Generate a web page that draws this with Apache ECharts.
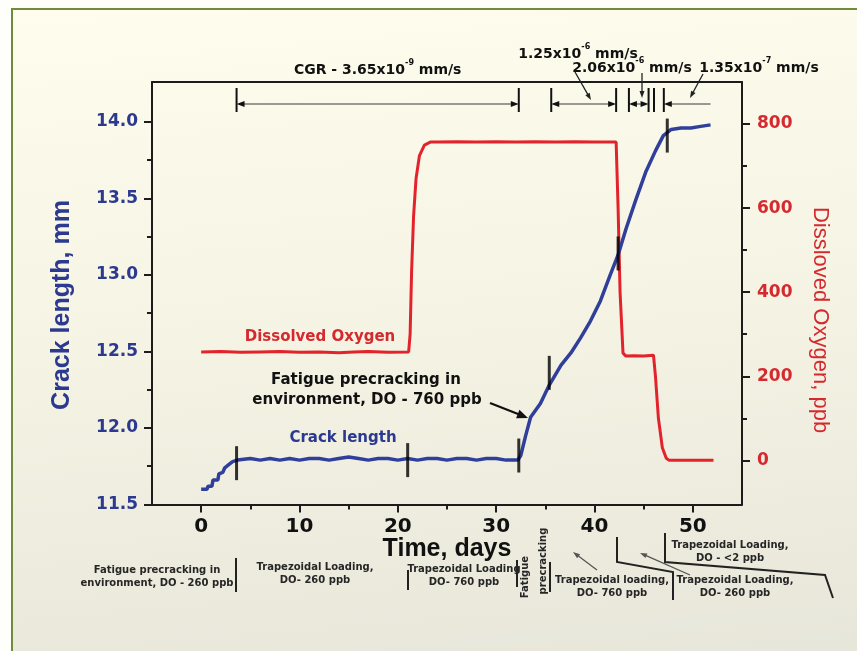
<!DOCTYPE html>
<html><head><meta charset="utf-8">
<script src="https://cdn.jsdelivr.net/npm/echarts@6/dist/echarts.min.js"></script>
<style>
html,body{margin:0;padding:0;background:#fefefa;}
#bg{position:absolute;left:11px;top:8px;width:846px;height:643px;box-sizing:border-box;border-left:2.5px solid #6e8c3c;border-top:2.5px solid #6e8c3c;background:linear-gradient(175deg,#fefdee 0%,#f6f4e4 45%,#e7e6da 100%);}
#c{position:absolute;left:0;top:0;width:857px;height:651px;}
</style>
</head><body><div id="bg"></div><div id="c"></div>
<script>
// ---- data ----
const crackDays = [0,0.6,0.7,1.1,1.2,1.7,1.8,2.2,2.4,2.8,3.2,3.7,5,6,7,8,9,10,11,12,13,14,15,16,17,18,19,20,21,22,23,24,25,26,27,28,29,30,31,32.2,32.5,33,33.5,34.5,35.4,36.6,37.6,38.6,39.6,40.6,41.6,42.4,43.2,44.2,45.2,46.2,47.0,47.8,48.8,49.8,50.8,51.8];
const crackMM   = [11.60,11.60,11.62,11.62,11.66,11.66,11.70,11.71,11.74,11.76,11.78,11.79,11.80,11.79,11.80,11.79,11.80,11.79,11.80,11.80,11.79,11.80,11.81,11.80,11.79,11.80,11.80,11.79,11.80,11.79,11.80,11.80,11.79,11.80,11.80,11.79,11.80,11.80,11.79,11.79,11.82,11.95,12.07,12.16,12.28,12.41,12.49,12.59,12.70,12.83,13.00,13.13,13.30,13.49,13.67,13.81,13.91,13.95,13.96,13.96,13.97,13.98];
const doDays = [0,2,4,6,8,10,12,14,15.5,17,19,21.1,21.25,21.4,21.6,21.85,22.2,22.7,23.3,24,26,28,30,32,34,36,38,40,42.2,42.4,42.6,42.9,43.2,44,45,46.0,46.2,46.5,46.9,47.3,47.6,49,51,52.1];
const doPpb  = [258,259,257,258,259,257,258,256,258,259,257,258,300,450,580,670,725,750,757,757,758,757,758,757,758,757,758,757,757,600,400,255,248,249,248,250,200,100,30,5,0,0,0,0];
const markerDays = [3.6,21.0,32.3,35.4,42.4,47.4];
const markerMM   = [11.77,11.79,11.82,12.36,13.14,13.91];
const xMajor = [0,10,20,30,40,50];
const xMinor = [5,15,25,35,45];
const leftMajor = [11.5,12.0,12.5,13.0,13.5,14.0];
const leftMinor = [11.75,12.25,12.75,13.25,13.75];
const rightMajor = [0,200,400,600,800];
const rightMinor = [100,300,500,700];
const cgrSpans = [[3.6,32.3],[35.6,42.2],[43.5,45.5]];
const cgrLastSpan = [47.05,51.8];

const FONT = 'DejaVu Sans';
const AX = '#1c1c1c';
const NAVY = '#2b3990';
const RED = '#d42a2f';

const chart = echarts.init(document.getElementById('c'), null, {renderer:'canvas'});
const xBase = {type:'value', min:-5, max:55, splitLine:{show:false}};
const option = {
  animation:false,
  backgroundColor:'transparent',
  grid:{left:152, right:115, top:82, bottom:146.5, containLabel:false},
  xAxis:[
    Object.assign({}, xBase, {position:'bottom',
      axisLine:{show:true,onZero:false,lineStyle:{color:AX,width:2}},
      axisTick:{show:true,length:8,customValues:xMajor,lineStyle:{color:AX,width:2}},
      axisLabel:{customValues:xMajor,margin:12,color:'#111',fontFamily:FONT,fontWeight:'bold',fontSize:20}}),
    Object.assign({}, xBase, {position:'bottom',
      axisLine:{show:false,onZero:false},
      axisTick:{show:true,length:5,customValues:xMinor,lineStyle:{color:AX,width:2}},
      axisLabel:{show:false}}),
    Object.assign({}, xBase, {position:'top',
      axisLine:{show:true,onZero:false,lineStyle:{color:AX,width:2}},
      axisTick:{show:false}, axisLabel:{show:false}})
  ],
  yAxis:[
    {type:'value', min:11.5, max:14.26, position:'left', splitLine:{show:false},
      axisLine:{show:true,onZero:false,lineStyle:{color:AX,width:2}},
      axisTick:{show:true,length:8,customValues:leftMajor,lineStyle:{color:AX,width:2}},
      axisLabel:{customValues:leftMajor,margin:14,color:NAVY,fontFamily:FONT,fontWeight:'bold',fontSize:17,
        formatter:v=>v.toFixed(1)}},
    {type:'value', min:11.5, max:14.26, position:'left', splitLine:{show:false},
      axisLine:{show:false,onZero:false},
      axisTick:{show:true,length:5,customValues:leftMinor,lineStyle:{color:AX,width:2}},
      axisLabel:{show:false}},
    {type:'value', min:-105, max:900, position:'right', splitLine:{show:false},
      axisLine:{show:true,onZero:false,lineStyle:{color:AX,width:2}},
      axisTick:{show:true,length:8,customValues:rightMajor,lineStyle:{color:AX,width:2}},
      axisLabel:{customValues:rightMajor,margin:15,color:RED,fontFamily:FONT,fontWeight:'bold',fontSize:17}},
    {type:'value', min:-105, max:900, position:'right', splitLine:{show:false},
      axisLine:{show:false,onZero:false},
      axisTick:{show:true,length:5,customValues:rightMinor,lineStyle:{color:AX,width:2}},
      axisLabel:{show:false}}
  ],
  series:[
    {type:'line', name:'Dissolved Oxygen', xAxisIndex:0, yAxisIndex:2, showSymbol:false, symbol:'none',
      data:doDays.map((d,i)=>[d,doPpb[i]]), lineStyle:{color:'#e3232b',width:3}, z:3},
    {type:'line', name:'Crack length', xAxisIndex:0, yAxisIndex:0, showSymbol:false, symbol:'none',
      data:crackDays.map((d,i)=>[d,crackMM[i]]), lineStyle:{color:'#2f3f9a',width:3.5}, z:4},
    {type:'scatter', xAxisIndex:0, yAxisIndex:0, symbol:'rect', symbolSize:[3,34],
      data:markerDays.map((d,i)=>[d,markerMM[i]]), itemStyle:{color:'#000'}, z:5}
  ]
};
chart.setOption(option);

// ---- annotations ----
const px = d => chart.convertToPixel({xAxisIndex:0}, d);
const g = [];
function ln(x1,y1,x2,y2,c,w){ g.push({type:'line',silent:true,z:10,shape:{x1,y1,x2,y2},style:{stroke:c||'#222',lineWidth:w||1.5}}); }
function pl(pts,c,w){ g.push({type:'polyline',silent:true,z:10,shape:{points:pts},style:{stroke:c||'#222',lineWidth:w||2,fill:null}}); }
function head(x1,y1,x2,y2,c,L,W){
  const a=Math.atan2(y2-y1,x2-x1), ca=Math.cos(a), sa=Math.sin(a);
  L=L||8; W=W||3;
  g.push({type:'polygon',silent:true,z:11,shape:{points:[[x2,y2],[x2-L*ca+W*sa,y2-L*sa-W*ca],[x2-L*ca-W*sa,y2-L*sa+W*ca]]},style:{fill:c||'#111'}});
}
function arrow(x1,y1,x2,y2,c,w,L,W){ const a=Math.atan2(y2-y1,x2-x1); ln(x1,y1,x2-(L||8)*0.6*Math.cos(a),y2-(L||8)*0.6*Math.sin(a),c,w); head(x1,y1,x2,y2,c,L,W); }
function tx(s,x,y,size,color,opts){
  opts=opts||{};
  g.push({type:'text',silent:true,z:12,x:x,y:y,rotation:opts.rot||0,
    style:{text:s,font:(opts.weight||'bold')+' '+size+'px '+(opts.family||FONT),fill:color||'#111',
      align:'center',verticalAlign:'middle',textAlign:'center',textVerticalAlign:'middle'}});
}
function sup(base,exp,tail,x,y,size){
  g.push({type:'text',silent:true,z:12,x:x,y:y,
    style:{text:'{b|'+base+'}{s|'+exp+'}{b|'+tail+'}',align:'center',verticalAlign:'middle',textAlign:'center',textVerticalAlign:'middle',
      rich:{b:{font:'bold '+size+'px '+FONT,fill:'#111',lineHeight:size+4,verticalAlign:'bottom'},
            s:{font:'bold '+Math.round(size*0.6)+'px '+FONT,fill:'#111',lineHeight:size,verticalAlign:'top'}}}});
}
// axis titles
tx('Time, days',447,549,25,'#111',{family:'Liberation Sans'});
tx('Crack length, mm',62,305,25,NAVY,{rot:Math.PI/2,family:'Liberation Sans'});
tx('Dissloved Oxygen, ppb',820,320,22,RED,{rot:-Math.PI/2,family:'Liberation Sans',weight:'normal'});
// top CGR dimension lines
const yTopBar1=88, yTopBar2=112, yArr=104;
cgrSpans.forEach(s=>{
  const a=px(s[0]), b=px(s[1]);
  ln(a,yTopBar1,a,yTopBar2,'#111',2); ln(b,yTopBar1,b,yTopBar2,'#111',2);
  ln(a+4,yArr,b-4,yArr,'#777',1.5);
  head(b,yArr,a,yArr,'#111',8,3); head(a,yArr,b,yArr,'#111',8,3);
});
(function(){
  const a=px(cgrLastSpan[0]), b=px(cgrLastSpan[1]);
  const a0=px(46.05);
  ln(a0,yTopBar1,a0,yTopBar2,'#111',2);
  ln(a,yTopBar1,a,yTopBar2,'#111',2);
  ln(a+4,yArr,b,yArr,'#777',1.5);
  head(b,yArr,a,yArr,'#111',8,3);
})();
sup('CGR - 3.65x10','-9',' mm/s',px(3.6)+(px(32.3)-px(3.6))*0.5,68,14);
sup('1.25x10','-6',' mm/s',578,52,14);
sup('2.06x10','-6',' mm/s',632,66,14);
sup('1.35x10','-7',' mm/s',759,66,14);
arrow(575,72,591,100,'#222',1.3,7,2.5);
arrow(642,73,642,98,'#222',1.3,7,2.5);
arrow(703,74,690,98,'#222',1.3,7,2.5);
// in-plot labels
tx('Dissolved Oxygen',320,337,15,RED);
tx('Crack length',343,438,15,NAVY);
tx('Fatigue precracking in',366,380,15,'#111');
tx('environment, DO - 760 ppb',367,400,15,'#111');
arrow(490,403,528,418,'#111',2.2,11,4.5);
// bottom annotations
const BS=10, BC='#262626';
tx('Fatigue precracking in',157,570,BS,BC);
tx('environment, DO - 260 ppb',157,583,BS,BC);
ln(236,558,236,592,'#222',2);
tx('Trapezoidal Loading,',315,567,BS,BC);
tx('DO- 260 ppb',315,580,BS,BC);
ln(408,570,408,590,'#222',2);
tx('Trapezoidal Loading',464,569,BS,BC);
tx('DO- 760 ppb',464,582,BS,BC);
ln(517,560,517,587,'#222',2);
tx('Fatigue',525,577,BS,BC,{rot:Math.PI/2});
tx('precracking',543,561,BS,BC,{rot:Math.PI/2});
ln(550,562,550,592,'#222',2);
tx('Trapezoidal loading,',612,580,BS,BC);
tx('DO- 760 ppb',612,593,BS,BC);
arrow(597,570,573,552,'#555',1.3,7,2.5);
pl([[617,537],[617,562],[673,572],[673,600]],'#222',2);
arrow(690,575,640,553,'#555',1.3,7,2.5);
pl([[665,533],[665,562],[825,575],[833,598]],'#222',2);
tx('Trapezoidal Loading,',730,545,BS,BC);
tx('DO - <2 ppb',730,558,BS,BC);
tx('Trapezoidal Loading,',735,580,BS,BC);
tx('DO- 260 ppb',735,593,BS,BC);
chart.setOption({graphic:{elements:g}});
</script>
</body></html>
